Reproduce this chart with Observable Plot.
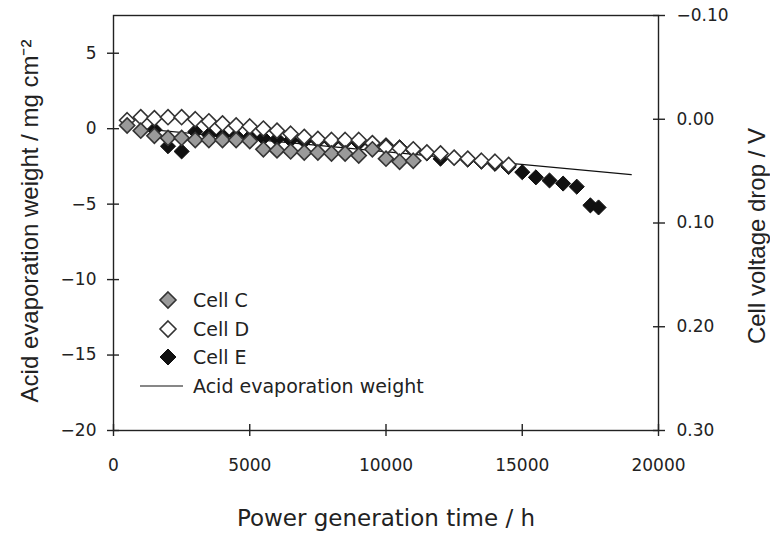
<!DOCTYPE html>
<html><head><meta charset="utf-8">
<script src="https://cdn.jsdelivr.net/npm/d3@7"></script>
<script src="https://cdn.jsdelivr.net/npm/@observablehq/plot@0.6"></script>
<style>
body{margin:0;background:#fff}
#wrap{position:relative;width:770px;height:534px}
#legend{position:absolute;left:140px;top:286px;font-family:"DejaVu Sans",sans-serif;font-size:19px;color:#222}
#legend .row{display:flex;align-items:center;height:28.5px}
#legend svg{width:50px;height:20px;margin-right:3px}
</style>
</head><body><div id="wrap"><div id="chart"></div><div id="legend"></div></div>
<script>
// Cell voltage drop (V) vs power generation time (h)
const hoursC = [500,1000,1500,2000,2500,3000,3500,4000,4500,5000,5500,6000,6500,7000,7500,8000,8500,9000,9500,10000,10500,11000];
const dropC  = [0.006,0.011,0.016,0.018,0.018,0.020,0.020,0.020,0.020,0.021,0.029,0.030,0.031,0.032,0.032,0.033,0.033,0.035,0.029,0.038,0.041,0.040];
const hoursD = [500,1000,1500,2000,2500,3000,3500,4000,4500,5000,5500,6000,6500,7000,7500,8000,8500,9000,9500,10000,10500,11000,11500,12000,12500,13000,13500,14000,14500];
const dropD  = [0.001,-0.002,-0.001,-0.002,-0.002,0.000,0.002,0.004,0.006,0.007,0.009,0.011,0.014,0.017,0.019,0.020,0.020,0.020,0.023,0.027,0.028,0.029,0.032,0.033,0.037,0.038,0.040,0.041,0.044];
const hoursE = [1500,2000,2500,3000,3500,4000,4500,5000,5500,6000,6500,7000,7500,8000,8500,9000,9500,10000,10500,11000,11500,12000,12500,13000,13500,14000,14500,15000,15500,16000,16500,17000,17500,17800];
const dropE  = [0.010,0.026,0.031,0.012,0.015,0.016,0.016,0.017,0.018,0.019,0.020,0.021,0.021,0.022,0.022,0.023,0.024,0.025,0.027,0.030,0.033,0.038,0.037,0.039,0.041,0.043,0.046,0.051,0.056,0.059,0.062,0.065,0.083,0.085];
// Acid evaporation weight (mg cm^-2)
const hoursAcid = [1000, 19000];
const acidWeight = [0.0, -3.05];
// Axis ticks
const xTicks = [0,5000,10000,15000,20000];
const leftTicks = [-20,-15,-10,-5,0,5];
const rightTicks = [-0.10,0.00,0.10,0.20,0.30];
const seriesNames = ["Cell C","Cell D","Cell E","Acid evaporation weight"];

// right axis (voltage, reversed) shares the frame with left axis (weight)
const W0 = -20, W1 = 7.5, V0 = 0.30, V1 = -0.10;
const v2w = v => W0 + (V0 - v) * (W1 - W0) / (V0 - V1);
const w2v = w => V0 - (w - W0) * (V0 - V1) / (W1 - W0);

const toRows = (hs, vs, s) => hs.map((h, i) => ({h, w: v2w(vs[i]), s}));
const rowsC = toRows(hoursC, dropC, seriesNames[0]);
const rowsD = toRows(hoursD, dropD, seriesNames[1]);
const rowsE = toRows(hoursE, dropE, seriesNames[2]);
const rowsAcid = hoursAcid.map((h, i) => ({h, w: acidWeight[i]}));

const gothic = '"DejaVu Sans",sans-serif';
const sans = '"Liberation Sans",Arial,sans-serif';
const ink = "#222";

const fmtV = w => { const v = w2v(w); const a = Math.abs(v).toFixed(2); return v < -1e-6 ? "\u2212" + a : a; };

const chart = Plot.plot({
  width: 770, height: 534,
  marginLeft: 113, marginRight: 112, marginTop: 15, marginBottom: 104,
  style: {fontFamily: gothic, background: "#fff", color: ink},
  x: {domain: [0, 20000]},
  y: {domain: [W0, W1]},
  marks: [
    Plot.frame({stroke: ink, strokeWidth: 1.4}),
    Plot.axisX({ticks: xTicks, tickSize: 12, dy: -6, tickPadding: 22, fontSize: 17, fontFamily: gothic, stroke: ink, strokeWidth: 1.4, label: null, tickFormat: d => String(d)}),
    Plot.axisY({anchor: "left", ticks: leftTicks, tickSize: 12, dx: 6, tickPadding: 11, fontSize: 17, fontFamily: gothic, stroke: ink, strokeWidth: 1.4, label: null}),
    Plot.axisY({anchor: "right", ticks: rightTicks.map(v2w), tickSize: 12, dx: -6, tickPadding: 12, fontSize: 17, fontFamily: gothic, stroke: ink, strokeWidth: 1.4, label: null, tickFormat: fmtV}),
    Plot.line(rowsAcid, {x: "h", y: "w", stroke: "#111", strokeWidth: 1.2}),
    Plot.dot(rowsE, {x: "h", y: "w", symbol: "diamond2", r: 6.8, fill: "#111", stroke: "#111", strokeWidth: 1}),
    Plot.dot(rowsD, {x: "h", y: "w", symbol: "diamond2", r: 6.8, fill: "#fff", stroke: "#333", strokeWidth: 1.6}),
    Plot.dot(rowsC, {x: "h", y: "w", symbol: "diamond2", r: 6.8, fill: "#9a9a9a", stroke: "#333", strokeWidth: 1.6}),
    Plot.text(["Acid evaporation weight / mg cm\u207B\u00B2"], {frameAnchor: "left", dx: -83, dy: -2, rotate: -90, textAnchor: "middle", lineAnchor: "middle", fontSize: 24, fontFamily: sans, fill: ink}),
    Plot.text(["Cell voltage drop / V"], {frameAnchor: "right", dx: 99, dy: 13, rotate: -90, textAnchor: "middle", lineAnchor: "middle", fontSize: 24, fontFamily: sans, fill: ink}),
    Plot.text(["Power generation time / h"], {frameAnchor: "bottom", dy: 88, textAnchor: "middle", lineAnchor: "middle", fontSize: 23, fontFamily: gothic, fill: ink})
  ]
});
document.getElementById("chart").append(chart);

// legend
const legend = document.getElementById("legend");
const sym = {
  "Cell C": '<path d="M28,2L36,10L28,18L20,10Z" fill="#9a9a9a" stroke="#333" stroke-width="1.6"/>',
  "Cell D": '<path d="M28,2L36,10L28,18L20,10Z" fill="#fff" stroke="#333" stroke-width="1.6"/>',
  "Cell E": '<path d="M28,2L36,10L28,18L20,10Z" fill="#111" stroke="#111" stroke-width="1"/>',
  "Acid evaporation weight": '<line x1="0" y1="10" x2="43" y2="10" stroke="#111" stroke-width="1.2"/>'
};
seriesNames.forEach(n => {
  const row = document.createElement("div");
  row.className = "row";
  row.innerHTML = `<svg viewBox="0 0 50 20">${sym[n]}</svg><span>${n}</span>`;
  legend.append(row);
});
</script>
</body></html>
